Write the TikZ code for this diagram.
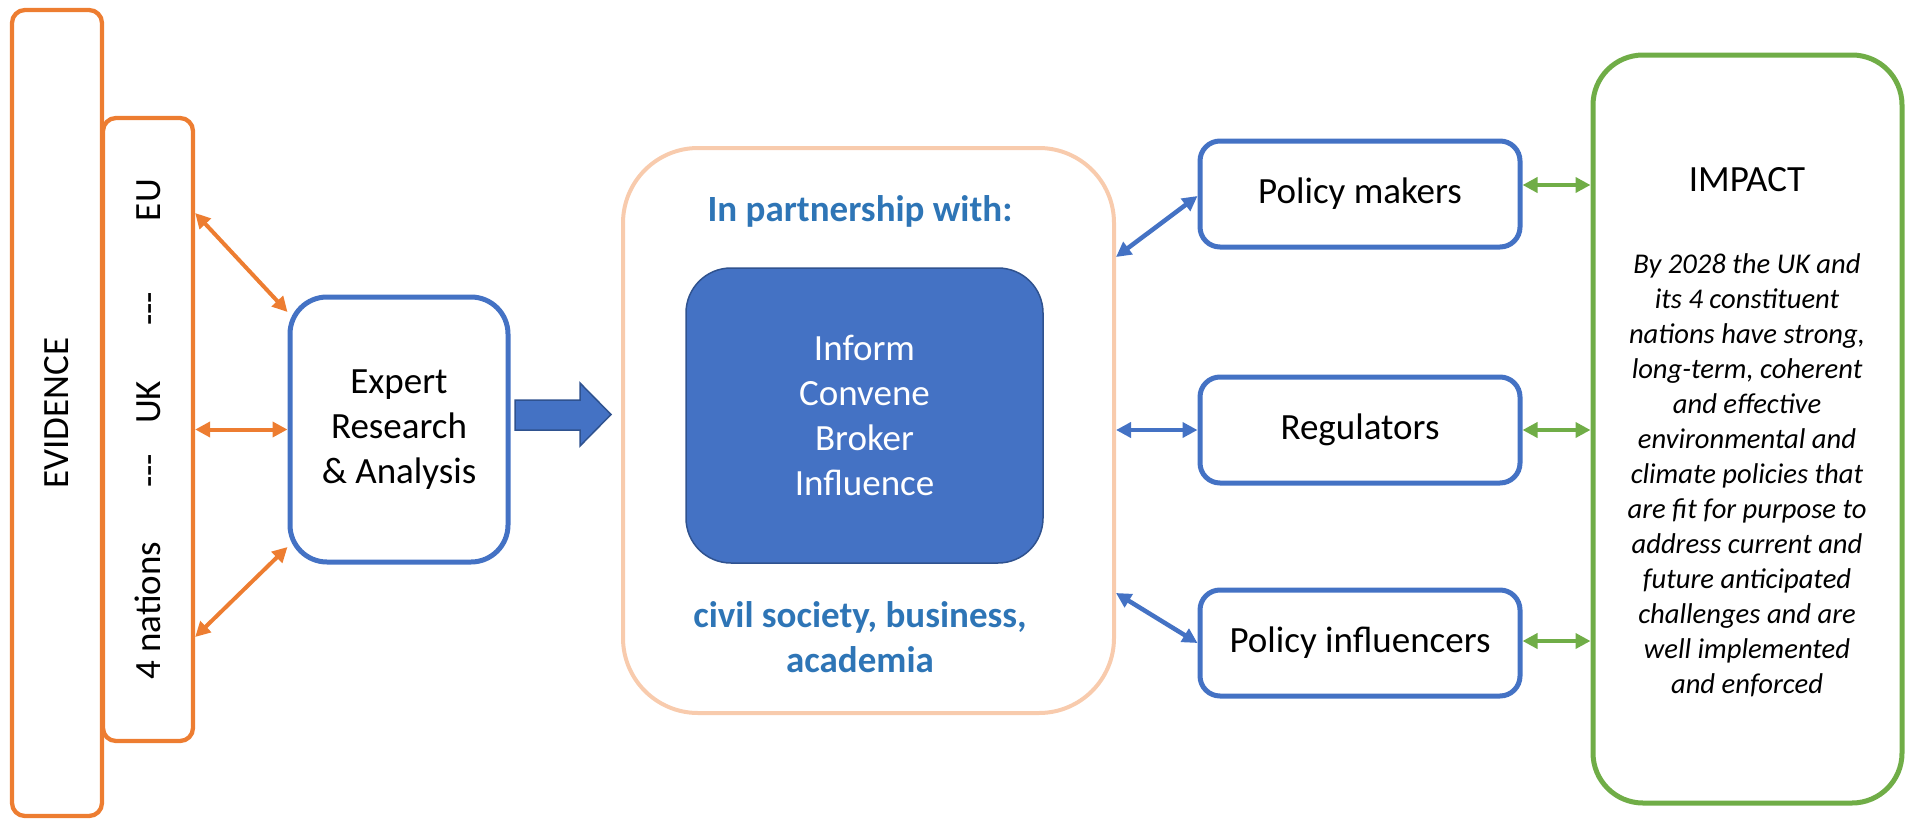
\documentclass[tikz,border=0pt]{standalone}
\usepackage{fontspec}
\setmainfont{Carlito}
\usetikzlibrary{arrows.meta}
\definecolor{ora}{HTML}{ED7D31}
\definecolor{blu}{HTML}{4472C4}
\definecolor{grn}{HTML}{70AD47}
\definecolor{pch}{HTML}{F8CBAD}
\definecolor{tblu}{HTML}{2E75B6}
\definecolor{dblu}{HTML}{2F528F}
\begin{document}
\begin{tikzpicture}[x=1pt,y=-1pt,
  big/.style={font=\fontsize{37}{45}\selectfont},
  bigb/.style={font=\fontsize{37}{45}\selectfont\bfseries},
  obox/.style={draw=ora,line width=4.3pt,rounded corners=13pt,inner sep=0pt},
  bbox/.style={draw=blu,line width=5pt,rounded corners=20pt,inner sep=0pt,big,align=center},
  dblarr/.style={line width=#1,{Triangle[length=15pt,width=15pt]}-{Triangle[length=15pt,width=15pt]}},
]
\useasboundingbox (0,0) rectangle (1905,819);

% evidence
\node[obox,minimum width=90pt,minimum height=806pt] (ev) at (57,413) {};
\node[big,rotate=90] (evl) at (ev.center) {EVIDENCE};
\node[obox,minimum width=90pt,minimum height=623pt] (nat) at (148,429.5) {};
\node[big,rotate=90] (natl) at (nat.center) {4 nations\hspace{54pt}-{}-{}-\hspace{30pt}UK\hspace{55pt}-{}-{}-\hspace{71pt}EU};

% expert
\node[bbox,rounded corners=37pt,minimum width=218pt,minimum height=265pt] (exp) at (399,429.5) {Expert\\Research\\\& Analysis};

% block arrow
\draw[fill=blu,draw=dblu,line width=1.5pt] (515,400) -- (580,400) -- (580,383) -- (611,414.5) -- (580,446) -- (580,430) -- (515,430) -- cycle;

% partnership
\node[draw=pch,line width=4pt,rounded corners=75pt,minimum width=491pt,minimum height=565pt,inner sep=0pt] (part) at (868.5,430.5) {};
\node[draw=dblu,fill=blu,line width=1.5pt,rounded corners=45pt,minimum width=357pt,minimum height=295pt,inner sep=0pt,text=white,big,align=center] (core) at (864.5,415.5) {Inform\\Convene\\Broker\\Influence};
\node[bigb,text=tblu,anchor=base] (pw) at (860,221) {In partnership with:};
\node[bigb,text=tblu,anchor=base,align=center] (cs) at (860,672) {civil society, business,\\academia};

% policy boxes
\node[bbox,minimum width=320pt,minimum height=106pt] (pm) at (1360,194) {Policy makers};
\node[bbox,minimum width=320pt,minimum height=106pt] (reg) at (1360,430) {Regulators};
\node[bbox,minimum width=320pt,minimum height=106pt] (pi) at (1360,643) {Policy influencers};

% impact
\node[draw=grn,line width=5pt,rounded corners=50pt,minimum width=309pt,minimum height=748pt,inner sep=0pt] (imp) at (1747.5,429) {};
\node[big,anchor=base] (impt) at (1747,191) {IMPACT};
\node[font=\fontsize{28.6}{35}\selectfont\itshape,align=center,anchor=base] (impd) at (1747,693) {By 2028 the UK and\\its 4 constituent\\nations have strong,\\long-term, coherent\\and effective\\environmental and\\climate policies that\\are fit for purpose to\\address current and\\future anticipated\\challenges and are\\well implemented\\and enforced};

% orange arrows
\draw[dblarr=4pt,ora] (nat.east |- 0,213) -- (exp.west |- 0,312);
\draw[dblarr=4pt,ora] (nat.east |- exp.west) -- (exp.west);
\draw[dblarr=4pt,ora] (nat.east |- 0,637) -- (exp.west |- 0,547);

% blue arrows
\draw[dblarr=4.5pt,blu] (part.east |- 0,257) -- (pm.west |- 0,196);
\draw[dblarr=4.5pt,blu] (part.east |- reg.west) -- (reg.west);
\draw[dblarr=4.5pt,blu] (part.east |- 0,593) -- (pi.west);

% green arrows
\draw[dblarr=4.5pt,grn] (pm.east |- 0,185) -- (imp.west |- 0,185);
\draw[dblarr=4.5pt,grn] (reg.east) -- (imp.west |- reg.east);
\draw[dblarr=4.5pt,grn] (pi.east |- 0,641) -- (imp.west |- 0,641);
\end{tikzpicture}
\end{document}
